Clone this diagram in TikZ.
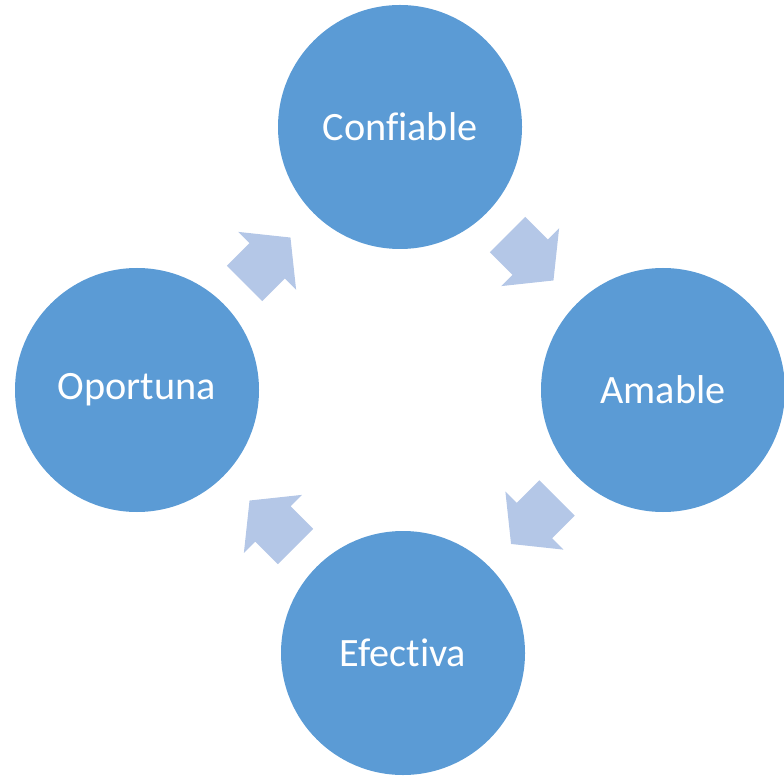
\documentclass[tikz,border=0pt]{standalone}
\usepackage{fontspec}
\setmainfont{Carlito}[Ligatures={NoCommon,NoContextual,NoRare}]

\definecolor{stageblue}{HTML}{5B9BD5}
\definecolor{arrowblue}{HTML}{B4C7E7}

\tikzset{
  stage/.style={circle, fill=stageblue, text=white, minimum size=4.88cm,
    inner sep=0pt, font=\fontsize{22.9}{27}\selectfont},
  blockarrow/.style={fill=arrowblue}
}

% block arrow: start point, direction
\newcommand{\cyclearrow}[2]{%
  \fill[blockarrow, shift={#1}, rotate=#2] (0,-0.5) -- (0.64,-0.5) -- (0.64,-0.82)
    -- (1.3,0) -- (0.64,0.82) -- (0.64,0.5) -- (0,0.5) -- cycle;}

\begin{document}
\begin{tikzpicture}
    \useasboundingbox (0,0) rectangle (15.68,-15.54);
    \node[stage] (confiable) at (8,-2.54) {Confiable};
    \node[stage] (amable) at (13.26,-7.8) {Amable};
    \node[stage] (efectiva) at (8.06,-13.06) {Efectiva};
    \node[stage] (oportuna) at (2.74,-7.8) {Oportuna};
    \cyclearrow{(10.15,-4.69)}{-45}
    \cyclearrow{(11.14,-9.96)}{-135}
    \cyclearrow{(5.91,-10.93)}{135}
    \cyclearrow{(4.89,-5.67)}{45}
\end{tikzpicture}
\end{document}
